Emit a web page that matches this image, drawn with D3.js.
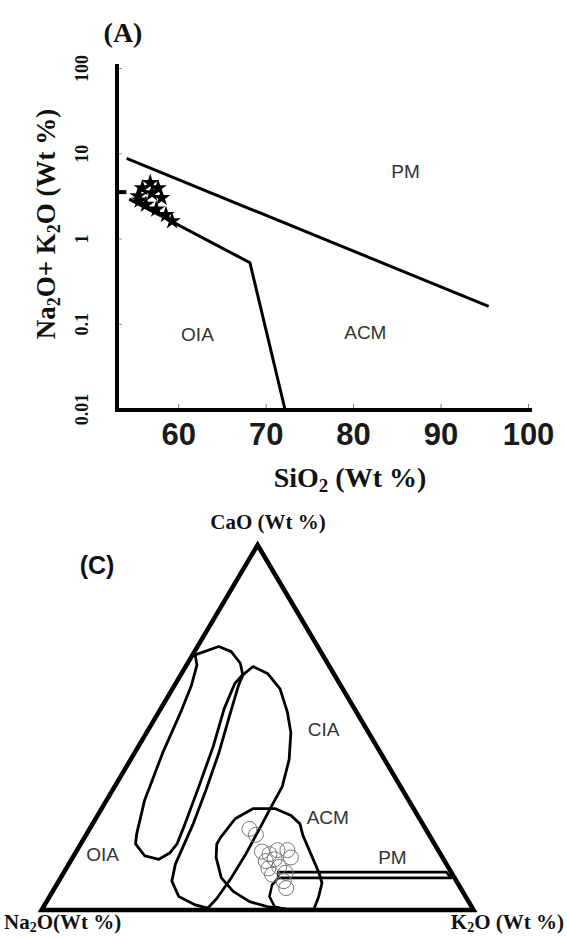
<!DOCTYPE html>
<html>
<head>
<meta charset="utf-8">
<script src="https://cdn.jsdelivr.net/npm/d3@7"></script>
<style>
  body { margin: 0; background: #fff; }
  svg { display: block; }
  .serif { font-family: "Liberation Serif", "Times New Roman", serif; font-weight: bold; fill: #111; }
  .sans { font-family: "Liberation Sans", Arial, sans-serif; }
  .field { font-family: "Liberation Sans", Arial, sans-serif; font-size: 19px; fill: #333; }
</style>
</head>
<body>
<script>
// ---- (A) SiO2 vs Na2O+K2O ----
const siO2Ticks = [60, 70, 80, 90, 100];
const alkTicks = [0.01, 0.1, 1, 10, 100];
// boundary lines [SiO2, Na2O+K2O]
const pmBoundary = [[54.1, 8.7], [95.5, 0.16]];
const oiaBoundary = [[54.4, 2.9], [68.2, 0.52], [72.2, 0.01]];
// samples
const sampleSiO2 = [55.4, 55.9, 56.8, 57.0, 57.7, 58.1, 56.3, 57.5, 58.6, 59.3, 55.6];
const sampleAlk  = [3.15, 3.9, 4.5, 3.4, 3.9, 3.0, 2.5, 2.2, 1.9, 1.6, 2.8];
const axisSample = [53.5, 3.5];
const fieldLabelsA = [
  { name: "PM", si: 86, alk: 6.2 },
  { name: "OIA", si: 62.2, alk: 0.075 },
  { name: "ACM", si: 81.4, alk: 0.08 }
];

// ---- (C) ternary CaO - Na2O - K2O, points as [CaO, K2O] (Na2O = 100 - CaO - K2O) ----
const oiaField = [[69.9, 0.6], [72.2, 4.9], [70.8, 8.5], [67.6, 12.2], [64.5, 14.3], [62.0, 13.7],
  [55.1, 14.7], [44.9, 17.3], [33.8, 19.5], [23.6, 21.4], [18.1, 22.3], [15.7, 21.9], [13.9, 20.2],
  [14.8, 16.5], [18.1, 12.7], [20.8, 11.6], [30.1, 8.8], [43.1, 6.5], [54.2, 5.1], [61.6, 3.9], [67.1, 2.4]];
const ciaField = [[66.7, 15.6], [64.8, 19.9], [60.6, 24.9], [54.2, 29.8], [48.6, 33.4], [41.2, 36.7],
  [33.8, 38.8], [28.2, 39.0], [22.7, 39.3], [15.3, 39.6], [8.8, 39.5], [3.2, 39.0], [0.5, 38.2],
  [1.4, 34.9], [3.7, 29.9], [7.9, 26.2], [12.5, 24.7], [17.1, 24.1], [23.6, 23.3], [32.9, 21.6],
  [43.1, 19.5], [53.2, 16.9], [61.6, 14.8], [64.4, 14.4]];
const acmField = [[19.9, 31.5], [25.0, 32.3], [27.8, 35.1], [27.8, 40.1], [25.9, 44.8], [23.6, 48.0],
  [20.4, 50.3], [15.3, 54.7], [10.2, 59.1], [7.4, 61.2], [3.7, 62.3], [0.3, 62.9], [0.2, 57.2],
  [0.9, 51.8], [2.3, 47.0], [5.1, 41.8], [8.8, 37.2], [14.4, 33.2], [18.1, 31.5]];
const acmInner = [[8.8, 50.4], [6.9, 49.9], [3.7, 50.9], [0.9, 53.5], [0, 57.3]];
const pmField = [[10.4, 49.6], [10.4, 88.5], [8.8, 90.4], [8.8, 50.4]];
const sampleCaO = [22.2, 20.6, 16.0, 15.3, 16.4, 16.4, 14.4, 13.4, 13.9, 11.4, 11.8, 9.7, 10.2, 7.9, 6.0];
const sampleK2O = [37.0, 39.3, 43.0, 45.1, 46.4, 48.7, 50.5, 45.2, 47.0, 46.8, 49.1, 48.5, 51.4, 52.1, 53.6];
const fieldLabelsC = [
  { name: "CIA", cao: 49.6, k2o: 40.5 },
  { name: "ACM", cao: 25.3, k2o: 53.6 },
  { name: "PM", cao: 14.4, k2o: 74 },
  { name: "OIA", cao: 15.2, k2o: 6.5 }
];

const W = 567, H = 940;
const svg = d3.select("body").append("svg").attr("width", W).attr("height", H);

// ================= (A) =================
const x = d3.scaleLinear().domain([53, 100]).range([117, 528]);
const y = d3.scaleLog().domain([0.01, 100]).range([409, 68]);
const gA = svg.append("g");

const xAxis = gA.append("g")
  .attr("transform", `translate(0,${y(0.01) + 1})`)
  .call(d3.axisBottom(x).tickValues(siO2Ticks).tickSizeInner(-6).tickSizeOuter(0).tickPadding(13));
xAxis.select(".domain").remove();
xAxis.selectAll("line").attr("stroke", "#777");
xAxis.selectAll("text")
  .attr("class", "sans")
  .style("font-size", "31px")
  .style("font-weight", "bold")
  .attr("fill", "#1a1a1a");

const yAxis = gA.append("g")
  .attr("transform", `translate(${x(53)},0)`)
  .call(d3.axisLeft(y).tickValues(alkTicks).tickFormat(d => d).tickSizeInner(-5).tickSizeOuter(0));
yAxis.select(".domain").remove();
yAxis.selectAll("line").attr("stroke", "#888");
yAxis.selectAll("text")
  .attr("class", "serif")
  .attr("x", 0).attr("dy", 0)
  .attr("text-anchor", "middle")
  .attr("transform", "translate(-29,0) rotate(-90)")
  .style("font-size", "18px");

// axis lines
gA.append("path")
  .attr("d", `M${x(53)},${y(100) - 4}V${y(0.01) + 1}H${x(100) + 4}`)
  .attr("fill", "none").attr("stroke", "#000").attr("stroke-width", 4);

const lineA = d3.line().x(d => x(d[0])).y(d => y(d[1]));
gA.selectAll(".bound").data([pmBoundary, oiaBoundary]).join("path")
  .attr("d", lineA).attr("fill", "none").attr("stroke", "#000").attr("stroke-width", 3);

gA.selectAll(".samp").data(sampleSiO2).join("path")
  .attr("transform", (d, i) => `translate(${x(d)},${y(sampleAlk[i])})`)
  .attr("d", d3.symbol(d3.symbolStar, 95))
  .attr("fill", "#000");
gA.append("rect")
  .attr("x", x(axisSample[0]) - 4).attr("y", y(axisSample[1]) - 2)
  .attr("width", 9).attr("height", 4).attr("fill", "#000");

gA.selectAll(".flab").data(fieldLabelsA).join("text")
  .attr("class", "field")
  .attr("x", d => x(d.si)).attr("y", d => y(d.alk))
  .attr("text-anchor", "middle").attr("dy", "0.35em")
  .text(d => d.name);

gA.append("text").attr("class", "serif").attr("x", 123).attr("y", 42)
  .attr("text-anchor", "middle").style("font-size", "28px").text("(A)");

const yt = gA.append("text").attr("class", "serif")
  .attr("transform", "translate(55,224) rotate(-90)")
  .attr("text-anchor", "middle").style("font-size", "27px");
yt.append("tspan").text("Na");
yt.append("tspan").attr("dy", 5).style("font-size", "18px").text("2");
yt.append("tspan").attr("dy", -5).text("O+ K");
yt.append("tspan").attr("dy", 5).style("font-size", "18px").text("2");
yt.append("tspan").attr("dy", -5).text("O (Wt %)");

const xt = gA.append("text").attr("class", "serif")
  .attr("x", 350).attr("y", 487).attr("text-anchor", "middle").style("font-size", "28px");
xt.append("tspan").text("SiO");
xt.append("tspan").attr("dy", 5).style("font-size", "19px").text("2");
xt.append("tspan").attr("dy", -5).text(" (Wt %)");

// ================= (C) =================
const tx = d3.scaleLinear().domain([0, 100]).range([41.6, 473.6]);
const ty = d3.scaleLinear().domain([0, 100]).range([910, 545]);
const tern = p => [tx(p[1] + p[0] / 2), ty(p[0])];
const gC = svg.append("g");

gC.append("path")
  .attr("d", d3.line().curve(d3.curveLinearClosed)([[0, 0], [0, 100], [100, 0]].map(tern)))
  .attr("fill", "none").attr("stroke", "#000").attr("stroke-width", 4.5)
  .attr("stroke-linejoin", "miter");

const closed = d3.line().curve(d3.curveLinearClosed);
gC.selectAll(".fld").data([oiaField, ciaField, acmField, pmField]).join("path")
  .attr("d", d => closed(d.map(tern)))
  .attr("fill", "none").attr("stroke", "#000").attr("stroke-width", 2.8)
  .attr("stroke-linejoin", "round");
gC.append("path")
  .attr("d", d3.line()(acmInner.map(tern)))
  .attr("fill", "none").attr("stroke", "#000").attr("stroke-width", 2.5);

gC.selectAll(".circ").data(sampleCaO).join("circle")
  .attr("cx", (d, i) => tern([d, sampleK2O[i]])[0])
  .attr("cy", (d, i) => tern([d, sampleK2O[i]])[1])
  .attr("r", 7.5)
  .attr("fill", "none").attr("stroke", "#777").attr("stroke-width", 1);

gC.selectAll(".tlab").data(fieldLabelsC).join("text")
  .attr("class", "field")
  .attr("x", d => tern([d.cao, d.k2o])[0]).attr("y", d => tern([d.cao, d.k2o])[1])
  .attr("text-anchor", "middle").attr("dy", "0.35em")
  .text(d => d.name);

gC.append("text").attr("class", "sans").attr("x", 97).attr("y", 574)
  .attr("text-anchor", "middle").style("font-size", "25px").style("font-weight", "bold")
  .attr("fill", "#111").text("(C)");

gC.append("text").attr("class", "serif").attr("x", 268).attr("y", 529)
  .attr("text-anchor", "middle").style("font-size", "21px").text("CaO (Wt %)");

const nl = gC.append("text").attr("class", "serif").attr("x", 4).attr("y", 929).style("font-size", "21px");
nl.append("tspan").text("Na");
nl.append("tspan").attr("dy", 3).style("font-size", "14px").text("2");
nl.append("tspan").attr("dy", -3).text("O(Wt %)");

const kl = gC.append("text").attr("class", "serif").attr("x", 564).attr("y", 929)
  .attr("text-anchor", "end").style("font-size", "21px");
kl.append("tspan").text("K");
kl.append("tspan").attr("dy", 3).style("font-size", "14px").text("2");
kl.append("tspan").attr("dy", -3).text("O (Wt %)");
</script>
</body>
</html>
